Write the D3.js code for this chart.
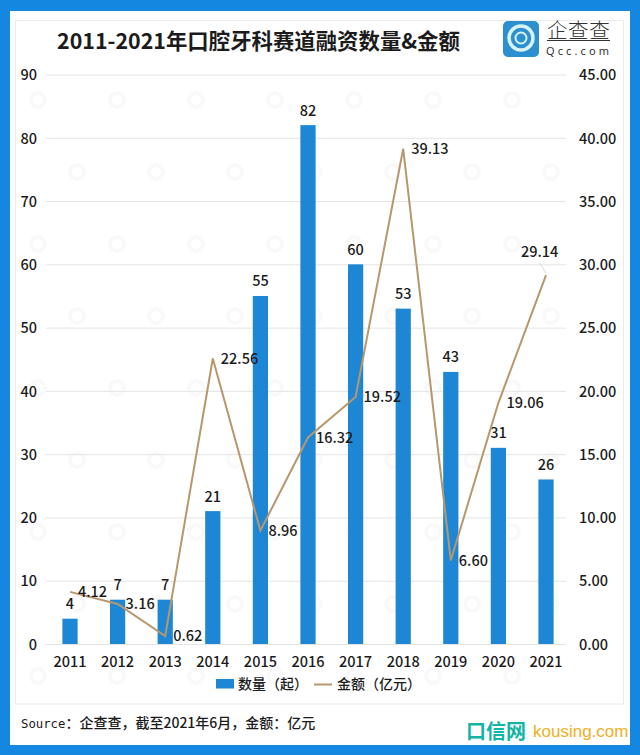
<!DOCTYPE html>
<html><head><meta charset="utf-8">
<script src="https://cdnjs.cloudflare.com/ajax/libs/d3/7.8.5/d3.min.js"></script>
<style>html,body{margin:0;padding:0;background:#fff}svg{display:block}</style>
</head><body><svg id="c" width="640" height="755"></svg>
<script>
const years = ["2011","2012","2013","2014","2015","2016","2017","2018","2019","2020","2021"];
const counts = [4,7,7,21,55,82,60,53,43,31,26];
const amounts = [4.12,3.16,0.62,22.56,8.96,16.32,19.52,39.13,6.60,19.06,29.14];
const leftTicks = [0,10,20,30,40,50,60,70,80,90];
const rightTicks = [0,5,10,15,20,25,30,35,40,45];
const titleText = "2011-2021年口腔牙科赛道融资数量&金额";
const sourceLatin = "Source";
const sourceText = "：企查查，截至2021年6月，金额：亿元";
const legendBar = "数量（起）", legendLine = "金额（亿元）";

const font = "'Noto Sans CJK SC','Noto Sans',sans-serif";
const svg = d3.select("#c").style("font-family", font);
const blue = "#1488E0", bar = "#1D87D6", tan = "#B8976C", ink = "#1b1b1b";

// frame
svg.append("rect").attr("width",640).attr("height",755).attr("fill",blue);
svg.append("rect").attr("x",10).attr("y",11).attr("width",620).attr("height",734).attr("fill","#fff");
svg.append("rect").attr("x",15.5).attr("y",20.5).attr("width",608).attr("height",683.5)
  .attr("fill","none").attr("stroke","#e9ecea");

// watermark
const wm = svg.append("g").attr("fill","#000").attr("fill-opacity",0.022).attr("font-size",12);
d3.range(0,9).forEach(r => d3.range(0,7).forEach(c => {
  const x = 38 + c*79 + (r%2)*39, y = 100 + r*72;
  if (x + 42 > 622) return;
  const g = wm.append("g").attr("transform",`translate(${x},${y}) rotate(-25)`);
  g.append("circle").attr("r",7).attr("fill","none").attr("stroke","#000").attr("stroke-opacity",0.022).attr("stroke-width",4);
  g.append("text").attr("x",14).attr("y",4).text("企查查");
}));

const x = d3.scaleBand().domain(years).range([46.2,569.8]).paddingInner(0.68).paddingOuter(0.34);
const yL = d3.scaleLinear().domain([0,90]).range([644,74.5]);
const yR = d3.scaleLinear().domain([0,45]).range([644,74.5]);
const cx = d => x(d)+x.bandwidth()/2;

// grid
svg.append("g").selectAll("line").data(leftTicks).join("line")
  .attr("x1",46).attr("x2",566).attr("y1",d=>yL(d)+.5).attr("y2",d=>yL(d)+.5)
  .attr("stroke","#e4e4e4").attr("stroke-width",1);

// axis labels
const axisL = d3.axisLeft(yL).tickValues(leftTicks).tickSize(0).tickPadding(0);
const gL = svg.append("g").attr("transform","translate(37,0)").call(axisL);
const axisR = d3.axisRight(yR).tickValues(rightTicks).tickSize(0).tickPadding(0).tickFormat(d3.format(".2f"));
const gR = svg.append("g").attr("transform","translate(579,0)").call(axisR);
const axisB = d3.axisBottom(x).tickSize(0).tickPadding(0);
const gB = svg.append("g").attr("transform","translate(0,657)").call(axisB);
[gL,gR,gB].forEach(g=>{g.select(".domain").remove();
  g.selectAll("text").attr("font-family",font).attr("font-size",14.5).attr("font-weight",500).attr("fill",ink);});
gL.selectAll("text").attr("dy","0.36em");
gR.selectAll("text").attr("dy","0.36em").attr("x",0);

// bars
svg.append("g").selectAll("rect").data(years).join("rect")
  .attr("x",d=>x(d)).attr("width",x.bandwidth())
  .attr("y",(d,i)=>yL(counts[i])).attr("height",(d,i)=>yL(0)-yL(counts[i])).attr("fill",bar);
svg.append("g").selectAll("text").data(years).join("text")
  .attr("x",cx).attr("y",(d,i)=>yL(counts[i])-9.5).attr("text-anchor","middle")
  .attr("font-size",14.5).attr("font-weight",500).attr("fill",ink).text((d,i)=>counts[i]);

// line
const line = d3.line().x(d=>cx(d.y)).y(d=>yR(d.v));
const pts = years.map((y,i)=>({y,v:amounts[i]}));
svg.append("path").attr("d",line(pts)).attr("fill","none").attr("stroke",tan).attr("stroke-width",2);

// leader for the last label
const last = pts[pts.length-1];
svg.append("line").attr("x1",cx(last.y)).attr("y1",yR(last.v)-2).attr("x2",cx(last.y)-6).attr("y2",yR(last.v)-12)
  .attr("stroke","#ddd");
svg.append("g").selectAll("text").data(pts).join("text")
  .attr("x",(d,i)=>i===10?cx(d.y)-25:cx(d.y)+8)
  .attr("y",(d,i)=>i===10?yR(d.v)-23:yR(d.v))
  .attr("dy","0.36em").attr("font-size",14.5).attr("font-weight",500).attr("fill",ink)
  .text(d=>d.v.toFixed(2));

// title
svg.append("text").attr("x",258.5).attr("y",48.5).attr("text-anchor","middle")
  .attr("font-size",21.4).attr("font-weight",700).attr("fill",ink).text(titleText);

// logo
const logo = svg.append("g");
logo.append("rect").attr("x",503).attr("y",21).attr("width",36).attr("height",36).attr("rx",5).attr("fill","#2B8FD0");
logo.append("circle").attr("cx",521).attr("cy",38).attr("r",12).attr("fill","none").attr("stroke","#d9f3f2").attr("stroke-width",3.5);
logo.append("circle").attr("cx",521).attr("cy",38).attr("r",5.5).attr("fill","none").attr("stroke","#d9f3f2").attr("stroke-width",2);
logo.append("text").attr("x",547).attr("y",38).attr("font-size",20.5).attr("letter-spacing",0.6).attr("font-weight",300).attr("fill","#333").text("企查查");
logo.append("line").attr("x1",547).attr("x2",610).attr("y1",40.5).attr("y2",40.5).attr("stroke","#333");
logo.append("text").attr("x",546).attr("y",55).attr("font-size",11).attr("letter-spacing",3.1).attr("fill","#333").attr("font-family","'Noto Sans',sans-serif").text("Qcc.com");

// legend
svg.append("rect").attr("x",216).attr("y",679).attr("width",18).attr("height",9.5).attr("fill",bar);
svg.append("text").attr("x",238).attr("y",689).attr("font-size",14).attr("font-weight",500).attr("fill",ink).text(legendBar);
svg.append("line").attr("x1",314).attr("x2",332).attr("y1",684.5).attr("y2",684.5).attr("stroke",tan).attr("stroke-width",2);
svg.append("text").attr("x",337).attr("y",689).attr("font-size",14).attr("font-weight",500).attr("fill",ink).text(legendLine);

// source
const src = svg.append("text").attr("x",21).attr("y",728).attr("font-size",14).attr("font-weight",500).attr("fill",ink);
src.append("tspan").attr("font-family","'DejaVu Sans Mono',monospace").attr("font-size",12.3).text(sourceLatin);
src.append("tspan").text(sourceText);

// site mark
svg.append("text").attr("x",466).attr("y",739).attr("font-size",20).attr("font-weight",700).attr("fill","#12B5A5").text("口信网");
svg.append("text").attr("x",533).attr("y",737).attr("font-size",17).attr("fill","#F0AE24").attr("font-family","'Liberation Sans',sans-serif").text("kousing.com");
</script></body></html>
